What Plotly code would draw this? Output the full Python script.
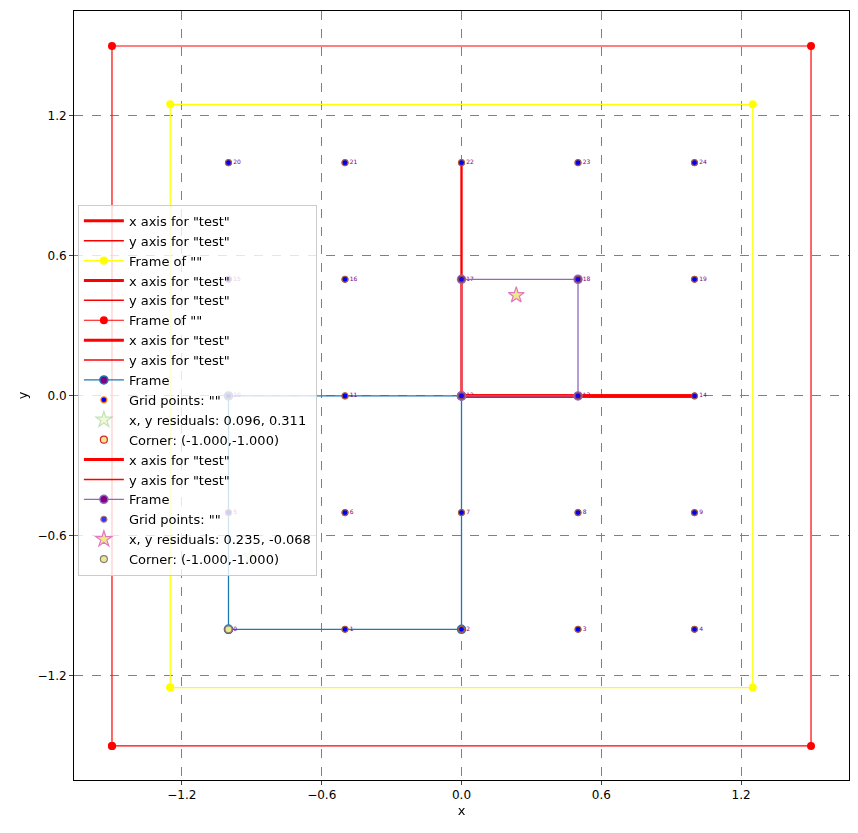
import plotly.graph_objects as go

grid_vals = [-1.0, -0.5, 0.0, 0.5, 1.0]
grid_x = [x for y in grid_vals for x in grid_vals]
grid_y = [y for y in grid_vals for x in grid_vals]
grid_idx = [str(i) for i in range(25)]

red_frame = 1.5
yellow_frame = 1.25
blue_frame_x = [-1.0, 0.0, 0.0, -1.0, -1.0]
blue_frame_y = [-1.0, -1.0, 0.0, 0.0, -1.0]
purple_frame_x = [0.0, 0.5, 0.5, 0.0, 0.0]
purple_frame_y = [0.0, 0.0, 0.5, 0.5, 0.0]
axis_x = ([0.0, 1.0], [0.0, 0.0])
axis_y = ([0.0, 0.0], [0.0, 1.0])
star1 = (-0.904, -0.689)
star2 = (0.235, 0.432)
corner = (-1.0, -1.0)

fig = go.Figure()

def axes_pair():
    fig.add_trace(go.Scatter(x=axis_x[0], y=axis_x[1], mode="lines", line=dict(color="red", width=3), name='x axis for "test"'))
    fig.add_trace(go.Scatter(x=axis_y[0], y=axis_y[1], mode="lines", line=dict(color="red", width=1.5), name='y axis for "test"'))

def sq(s):
    return [-s, s, s, -s, -s], [-s, -s, s, s, -s]

axes_pair()
xs, ys = sq(yellow_frame)
fig.add_trace(go.Scatter(x=xs, y=ys, mode="lines+markers", line=dict(color="yellow", width=1.2), marker=dict(color="yellow", size=8), name='Frame of ""'))
axes_pair()
xs, ys = sq(red_frame)
fig.add_trace(go.Scatter(x=xs, y=ys, mode="lines+markers", line=dict(color="red", width=1.2), marker=dict(color="red", size=8), name='Frame of ""'))
axes_pair()
fig.add_trace(go.Scatter(x=blue_frame_x, y=blue_frame_y, mode="lines+markers", line=dict(color="#1f77b4", width=1.3),
                         marker=dict(color="purple", size=8, line=dict(color="#1f77b4", width=1.5)), name="Frame"))
fig.add_trace(go.Scatter(x=grid_x, y=grid_y, mode="markers+text", text=grid_idx, textposition="middle right",
                         textfont=dict(size=6, color="purple"),
                         marker=dict(color="blue", size=6, line=dict(color="#ff7f0e", width=1.2)), name='Grid points: ""'))
fig.add_trace(go.Scatter(x=[star1[0]], y=[star1[1]], mode="markers", marker=dict(symbol="star", size=12, color="#d4e86a", line=dict(color="#2ca02c", width=1.2)), opacity=0.3,
                         name="x, y residuals: 0.096, 0.311"))
fig.add_trace(go.Scatter(x=[corner[0]], y=[corner[1]], mode="markers", marker=dict(size=7, color="#f0e68c", line=dict(color="#d62728", width=1.2)),
                         name="Corner: (-1.000,-1.000)"))
axes_pair()
fig.add_trace(go.Scatter(x=purple_frame_x, y=purple_frame_y, mode="lines+markers", line=dict(color="#9467bd", width=1.3),
                         marker=dict(color="purple", size=8, line=dict(color="#9467bd", width=1.5)), name="Frame"))
fig.add_trace(go.Scatter(x=grid_x, y=grid_y, mode="markers", marker=dict(color="blue", size=6, line=dict(color="#8c564b", width=1.2)), opacity=0.8,
                         name='Grid points: ""'))
fig.add_trace(go.Scatter(x=[star2[0]], y=[star2[1]], mode="markers", marker=dict(symbol="star", size=12, color="#f0e68c", line=dict(color="#e377c2", width=1.2)),
                         name="x, y residuals: 0.235, -0.068"))
fig.add_trace(go.Scatter(x=[corner[0]], y=[corner[1]], mode="markers", marker=dict(size=7, color="#f0e68c", line=dict(color="#7f7f7f", width=1.2)),
                         name="Corner: (-1.000,-1.000)"))

ticks = [-1.2, -0.6, 0.0, 0.6, 1.2]
axcommon = dict(tickvals=ticks, ticktext=["−1.2", "−0.6", "0.0", "0.6", "1.2"], showgrid=True, gridcolor="gray", griddash="dash", gridwidth=1,
                zeroline=False, showline=True, linecolor="black", linewidth=1, mirror=True, ticks="outside", ticklen=4,
                tickfont=dict(size=12, color="black"), automargin=False)
fig.update_layout(
    width=858, height=833, margin=dict(l=66, r=17, t=3, b=61, autoexpand=False),
    plot_bgcolor="white", paper_bgcolor="white",
    font=dict(family="DejaVu Sans", color="black"),
    xaxis=dict(range=[-1.663, 1.663], title=dict(text="x", font=dict(size=13), standoff=4), **axcommon),
    yaxis=dict(range=[-1.646, 1.65], title=dict(text="y", font=dict(size=13), standoff=6), **axcommon),
    legend=dict(x=0.005, y=0.748, xanchor="left", yanchor="top", bgcolor="rgba(255,255,255,0.8)", bordercolor="#cccccc", borderwidth=1,
                font=dict(size=13), tracegroupgap=0, itemwidth=40),
    showlegend=True,
)
fig.write_html("out.html")
